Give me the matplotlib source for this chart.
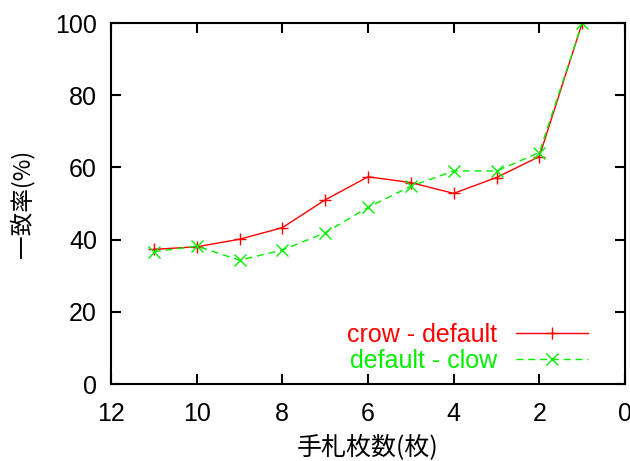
import matplotlib
matplotlib.use('Agg')
import matplotlib.pyplot as plt
from matplotlib.lines import Line2D

plt.rcParams['font.family'] = ['Liberation Sans', 'Noto Sans CJK JP', 'DejaVu Sans']

# 手札枚数
cards = [11, 10, 9, 8, 7, 6, 5, 4, 3, 2, 1]
# 一致率
crow_default = [37.3, 38.0, 40.1, 43.3, 51.0, 57.4, 55.8, 52.8, 57.2, 63.0, 100]
default_clow = [36.6, 38.2, 34.3, 37.1, 41.9, 48.9, 54.8, 59.0, 59.0, 64.1, 100]
labels = ['crow - default', 'default - clow']
colors = ['#ff0000', '#00f000']

fig = plt.figure(figsize=(6.3, 4.61), dpi=100)
ax = fig.add_axes([111 / 630, 1 - 384 / 461, (625 - 111) / 630, (384 - 23) / 461])

ax.plot(cards, crow_default, color=colors[0], lw=1, marker='+', ms=9, mew=1)
ax.plot(cards, default_clow, color=colors[1], lw=1, ls=(0, (5, 3.5)), marker='x', ms=8, mew=1)

ax.set_xlim(12, 0)
ax.set_ylim(0, 100)
ax.set_xticks([12, 10, 8, 6, 4, 2, 0])
ax.set_yticks([0, 20, 40, 60, 80, 100])
ax.tick_params(direction='in', top=True, right=True, length=7, width=1.5, labelsize=18)
ax.tick_params(axis='x', pad=13)
ax.tick_params(axis='y', pad=10)
for s in ax.spines.values():
    s.set_linewidth(1.5)

# 軸ラベル
fig.text(368 / 630, 1 - 447 / 461, '手札枚数(枚)', fontsize=18,
         family=['Noto Sans CJK JP'], ha='center', va='center')
ax.set_ylabel('一致率(%)', fontsize=17, family=['Noto Sans CJK JP'], labelpad=15)

# 凡例 (gnuplot 風)
handles = [Line2D([], [], color=colors[0], lw=1, marker='+', ms=9),
           Line2D([], [], color=colors[1], lw=1, ls=(0, (5, 3.5)), marker='x', ms=8)]
leg = ax.legend(handles, labels, loc='lower right', bbox_to_anchor=(0.953, -0.003),
                frameon=False, fontsize=18, markerfirst=False, handlelength=2.9,
                handletextpad=0.76, labelspacing=0.08, borderpad=0)
for t, c in zip(leg.get_texts(), colors):
    t.set_color(c)

fig.savefig('out.png', dpi=100)
